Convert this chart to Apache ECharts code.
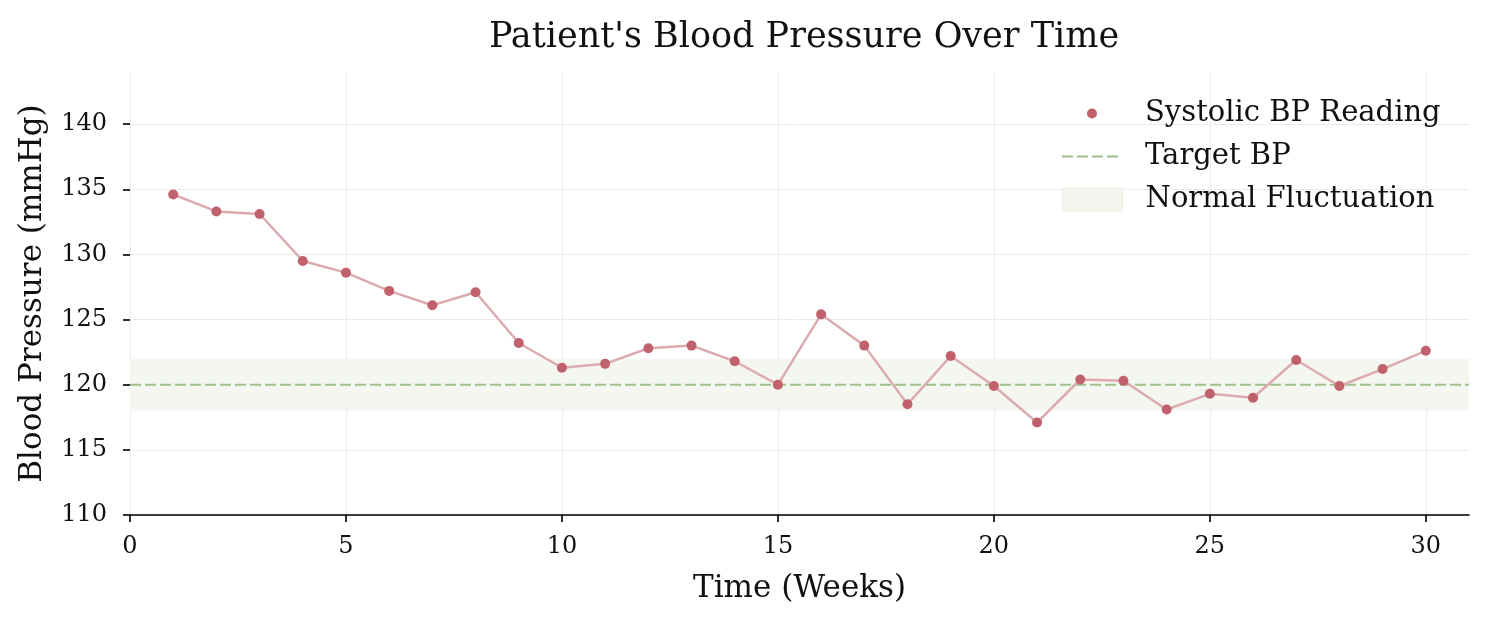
<!DOCTYPE html>
<html><head><meta charset="utf-8">
<script src="https://cdn.jsdelivr.net/npm/echarts@6/dist/echarts.min.js"></script>
<style>html,body{margin:0;padding:0;background:#fff}#c{width:1489px;height:622px}</style>
</head><body><div id="c"></div>
<script>
const weeks = [1,2,3,4,5,6,7,8,9,10,11,12,13,14,15,16,17,18,19,20,21,22,23,24,25,26,27,28,29,30];
const systolic = [134.6,133.3,133.1,129.5,128.6,127.2,126.1,127.1,123.2,121.3,121.6,122.8,123.0,121.8,120.0,125.4,123.0,118.5,122.2,119.9,117.1,120.4,120.3,118.1,119.3,119.0,121.9,119.9,121.2,122.6];
const targetBP = 120;
const bandLow = 118, bandHigh = 122;
const xTicks = [0,5,10,15,20,25,30];
const yTicks = [110,115,120,125,130,135,140];

const font = '"DejaVu Serif", serif';
const chart = echarts.init(document.getElementById('c'));
const dashPath = 'path://M0,0h11v2h-11z M15,0h11v2h-11z M30,0h11v2h-11z M45,0h11v2h-11z M60,0h0.01v2h-0.01z';
const dotPath = 'path://M0,5L0.01,5Z M60,5L59.99,5Z M25,5a5,5 0 1,0 10,0a5,5 0 1,0 -10,0Z';
const legendBase = {orient:'vertical', left:1062, padding:0, itemGap:0,
  textStyle:{fontFamily:font, fontSize:29, color:'#111', padding:[0,0,0,18]}};
chart.setOption({
  animation:false,
  title:{text:"Patient's Blood Pressure Over Time", left:799, top:15, textAlign:'center',
    textStyle:{fontFamily:font, fontSize:35, fontWeight:'normal', color:'#111'}},
  grid:{left:130, right:20, top:72, bottom:107},
  legend:[
    Object.assign({}, legendBase, {top:99, data:[{name:'Systolic BP Reading', icon:dotPath}], itemWidth:60, itemHeight:10}),
    Object.assign({}, legendBase, {top:142, data:[{name:'Target BP', icon:dashPath}], itemWidth:60, itemHeight:2}),
    Object.assign({}, legendBase, {top:185, data:[{name:'Normal Fluctuation', icon:'rect',
      itemStyle:{color:'#f3f6ef', borderColor:'#e9eee3', borderWidth:1}}], itemWidth:60, itemHeight:23})
  ],
  xAxis:{type:'value', min:0, max:31, interval:5,
    name:'Time (Weeks)', nameLocation:'middle', nameGap:58,
    nameTextStyle:{fontFamily:font, fontSize:31, color:'#111'},
    axisLine:{show:true, lineStyle:{color:'#000', width:1.6}},
    axisTick:{show:true, length:7, lineStyle:{color:'#000', width:1.6}, customValues:xTicks},
    axisLabel:{fontFamily:font, fontSize:24, color:'#111', margin:20, customValues:xTicks},
    splitLine:{show:true, lineStyle:{color:'#ebebeb', width:1}}},
  yAxis:{type:'value', min:110, max:144, interval:5,
    name:'Blood Pressure (mmHg)', nameLocation:'middle', nameGap:82,
    nameTextStyle:{fontFamily:font, fontSize:31, color:'#111'},
    axisLine:{show:false},
    axisTick:{show:true, length:7, lineStyle:{color:'#000', width:1.6}, customValues:yTicks},
    axisLabel:{fontFamily:font, fontSize:24, color:'#111', margin:23, customValues:yTicks},
    splitLine:{show:true, lineStyle:{color:'#ebebeb', width:1}}},
  series:[
    {name:'Normal Fluctuation', type:'line', data:[], itemStyle:{color:'#f3f6ef'},
      markArea:{silent:true, itemStyle:{color:'#f4f7f0'}, data:[[{yAxis:bandLow},{yAxis:bandHigh}]]}},
    {name:'Target BP', type:'line', symbol:'none', data:[[0,targetBP],[31,targetBP]],
      lineStyle:{color:'#a0c08b', width:2, type:[11,4]}, itemStyle:{color:'#a0c08b'}, z:3},
    {name:'Systolic BP Reading', type:'line', data:weeks.map((w,i)=>[w,systolic[i]]),
      symbol:'circle', symbolSize:10, showSymbol:true,
      lineStyle:{color:'#dcabb0', width:2.5}, itemStyle:{color:'#c0616b'}, z:4}
  ]
});
</script></body></html>
